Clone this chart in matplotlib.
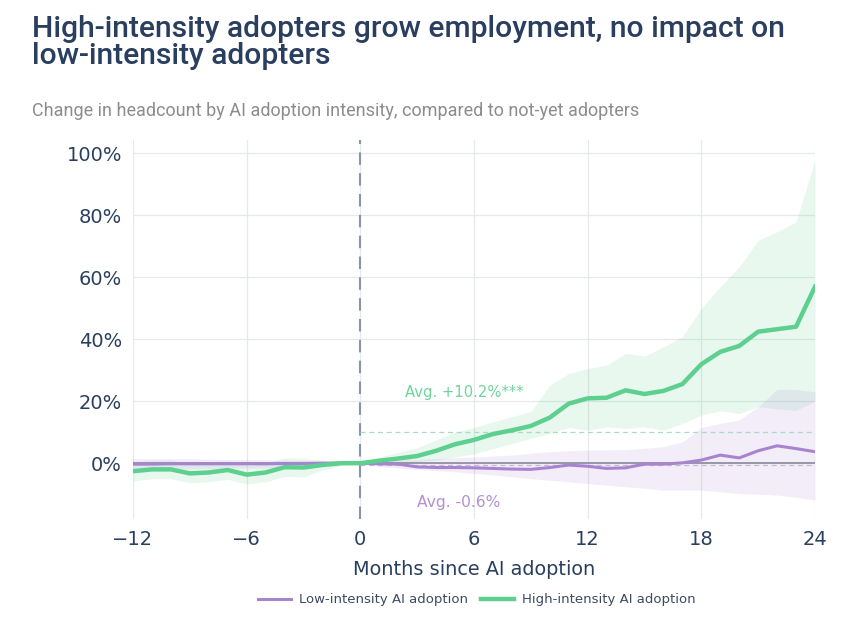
import matplotlib
matplotlib.use("Agg")
import matplotlib.pyplot as plt
import numpy as np

months = list(range(-12, 25))

high = [-2.6, -2.0, -2.0, -3.3, -3.0, -2.2, -3.7, -3.0, -1.3, -1.4, -0.6, 0.0,
        0.0, 0.8, 1.5, 2.3, 4.0, 6.1, 7.5, 9.4, 10.6, 12.0, 14.7, 19.2, 20.9,
        21.1, 23.5, 22.3, 23.3, 25.5, 31.9, 35.9, 37.8, 42.4, 43.2, 44.0, 56.9]
high_hi = [0.5, 1.0, 1.0, -0.3, 0.0, 0.8, -0.7, 0.0, 1.7, 1.6, 1.0, 0.8,
           0.3, 2.0, 3.5, 5.0, 7.5, 10.0, 11.5, 13.3, 15.0, 16.6, 25.2, 28.9, 30.5,
           31.6, 35.4, 34.5, 37.5, 40.8, 49.9, 56.9, 63.3, 71.9, 74.6, 77.8, 97.7]
high_lo = [-5.7, -5.0, -5.0, -6.3, -6.0, -5.2, -6.7, -6.0, -4.3, -4.4, -2.2, -0.8,
           -0.3, -0.3, 0.0, 0.5, 1.0, 2.0, 3.0, 4.7, 6.3, 8.0, 9.6, 11.5, 10.6,
           11.7, 11.2, 11.7, 10.6, 12.8, 15.5, 16.9, 16.0, 18.2, 17.5, 17.0, 20.0]

low = [-0.3, -0.3, -0.2, -0.2, -0.2, -0.2, -0.2, -0.2, -0.1, -0.1, 0.0, 0.0,
       0.0, -0.2, -0.3, -1.2, -1.4, -1.4, -1.5, -1.7, -1.9, -2.0, -1.4, -0.6, -1.0,
       -1.7, -1.5, -0.3, -0.3, 0.1, 1.0, 2.6, 1.7, 4.0, 5.6, 4.7, 3.7]
low_hi = [1.5, 1.4, 1.5, 1.4, 1.3, 1.2, 1.2, 1.1, 1.0, 0.9, 0.7, 0.4,
          0.2, 0.6, 1.0, 1.2, 1.5, 1.8, 2.0, 2.3, 2.6, 3.2, 3.7, 4.0, 4.2,
          4.3, 4.4, 4.8, 5.3, 6.9, 11.5, 12.8, 13.9, 18.2, 23.8, 23.8, 23.0]
low_lo = [-2.1, -2.0, -1.9, -1.8, -1.7, -1.6, -1.6, -1.5, -1.2, -1.1, -0.7, -0.4,
          -0.2, -1.0, -1.6, -2.0, -2.4, -2.8, -3.3, -3.8, -4.4, -5.0, -5.5, -6.0, -6.6,
          -7.1, -7.6, -8.1, -8.7, -8.7, -8.7, -9.2, -9.8, -10.0, -10.3, -11.0, -11.9]

avg_high = 10.2
avg_low = -0.6

title = "High-intensity adopters grow employment, no impact on\nlow-intensity adopters"
subtitle = "Change in headcount by AI adoption intensity, compared to not-yet adopters"
xlabel = "Months since AI adoption"
xticks = [-12, -6, 0, 6, 12, 18, 24]
yticks = [0, 20, 40, 60, 80, 100]

green = "#5dd08f"
purple = "#a884d0"
dark = "#2a3f5f"

fig = plt.figure(figsize=(8.56, 6.29), dpi=100)
ax = fig.add_axes([133/856, 1-519/629, (815-133)/856, (519-140)/629])

ax.fill_between(months, high_lo, high_hi, color=green, alpha=0.14, linewidth=0, zorder=1)
ax.fill_between(months, low_lo, low_hi, color=purple, alpha=0.14, linewidth=0, zorder=1)

ax.axhline(0, color="#8a8a9a", linewidth=1.2, zorder=2)
ax.axvline(0, color="#8a94a6", linewidth=1.5, linestyle=(0, (6, 4)), zorder=2)
ax.plot([0, 24], [avg_high, avg_high], color="#a8dcc4", linewidth=0.9, linestyle=(0, (4, 3)), zorder=2)
ax.plot([0, 24], [avg_low, avg_low], color="#c8b8d8", linewidth=0.9, linestyle=(0, (4, 3)), zorder=2)

ax.plot(months, low, color=purple, linewidth=2.2, zorder=3, label="Low-intensity AI adoption")
ax.plot(months, high, color=green, linewidth=3.2, zorder=4, label="High-intensity AI adoption")

ax.text(5.5, 22.9, "Avg. +10.2%***", color="#6fd49c", fontsize=10.6, ha="center", va="center")
ax.text(5.2, -12.6, "Avg. -0.6%", color="#b391d3", fontsize=11.2, ha="center", va="center")

ax.set_xlim(-12, 24)
ax.set_ylim(-18, 104.2)
ax.set_xticks(xticks)
ax.set_xticklabels([str(t).replace("-", "\u2212") for t in xticks])
ax.set_yticks(yticks)
ax.set_yticklabels([f"{t}%" for t in yticks])
ax.tick_params(length=0, labelsize=14, labelcolor=dark, pad=8)
ax.grid(True, color="#e6e8ec", linewidth=0.9)
ax.set_axisbelow(True)
for s in ax.spines.values():
    s.set_visible(False)
ax.set_xlabel(xlabel, fontsize=13.9, color=dark, labelpad=8)

fig.text(32/856, 1-15/629, title, fontsize=21.6, fontfamily="Roboto", fontweight="medium",
         color=dark, va="top", ha="left", linespacing=0.95)
fig.text(32/856, 1-111/629, subtitle, fontsize=12.95, fontfamily="Roboto", color="#8c8c8c",
         va="center", ha="left")

leg = fig.legend(loc="center", bbox_to_anchor=(477/856, 1-600/629), ncol=2, frameon=False,
                 fontsize=9.5, handlelength=2.5, columnspacing=1.0, handletextpad=0.6)
for t in leg.get_texts():
    t.set_color("#3d4a5f")

fig.savefig("out.png", dpi=100)
